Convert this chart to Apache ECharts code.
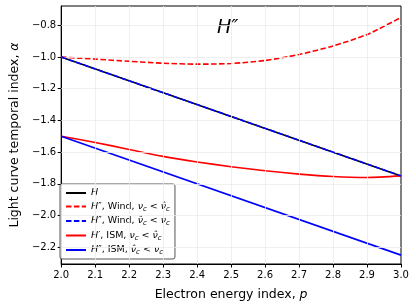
<!DOCTYPE html>
<html>
<head>
<meta charset="utf-8">
<script src="https://cdn.jsdelivr.net/npm/echarts@6/dist/echarts.min.js"></script>
<style>
  html, body { margin: 0; padding: 0; background: #fff; }
  #chart { width: 416px; height: 307px; }
</style>
</head>
<body>
<div id="chart"></div>
<script>
// electron energy index p (sample points)
const pCurve = [2.0, 2.1, 2.2, 2.3, 2.4, 2.5, 2.6, 2.7, 2.8, 2.9, 3.0];
const pLine = [2.0, 3.0];

// alpha values
const hClosure = [-1.0, -1.75];                 // H (black)
const windBelow = [-1.000, -1.013, -1.027, -1.039, -1.045, -1.041, -1.022, -0.984, -0.930, -0.858, -0.750];
const windAbove = [-1.0, -1.75];                // H'' wind, nu_hat < nu_c
const ismBelow = [-1.500, -1.539, -1.583, -1.627, -1.662, -1.692, -1.718, -1.739, -1.754, -1.760, -1.750];
const ismAbove = [-1.5, -2.25];                 // H'' ISM, nu_hat < nu_c

const xTicks = [2.0, 2.1, 2.2, 2.3, 2.4, 2.5, 2.6, 2.7, 2.8, 2.9, 3.0];
const yTicks = [-2.2, -2.0, -1.8, -1.6, -1.4, -1.2, -1.0, -0.8];

const FONT = 'DejaVu Sans';

function pairs(xs, ys) {
    return xs.map((x, i) => [x, ys[i]]);
}
const minus = v => String(v).replace('-', '\u2212');

const legendText = {
    h: '{i|H}',
    wb: '{i|H}{n|\u2033, Wind, }{i|\u03bd}{s|c}{n| < }{i|\u03bd\u0302}{s|c}',
    wa: '{i|H}{n|\u2033, Wind, }{i|\u03bd\u0302}{s|c}{n| < }{i|\u03bd}{s|c}',
    ib: '{i|H}{n|\u2032, ISM, }{i|\u03bd}{s|c}{n| < }{i|\u03bd\u0302}{s|c}',
    ia: '{i|H}{n|\u2033, ISM, }{i|\u03bd\u0302}{s|c}{n| < }{i|\u03bd}{s|c}'
};

const chart = echarts.init(document.getElementById('chart'), null, { renderer: 'canvas' });

function lineSeries(name, data, color, type, z) {
    return {
        name: name,
        type: 'line',
        data: data,
        symbol: 'none',
        smooth: data.length > 2 ? 0.25 : false,
        z: z,
        lineStyle: { color: color, width: 1.6, type: type === 'dashed' ? [5.5, 2.4] : 'solid' },
        itemStyle: { color: color }
    };
}

// grid lines drawn through the axes via markLine
const gridLines = {
    name: 'grid',
    type: 'line',
    data: [],
    silent: true,
    z: 1,
    markLine: {
        silent: true,
        symbol: 'none',
        label: { show: false },
        lineStyle: { color: '#ebebeb', width: 0.8, type: 'solid' },
        data: yTicks.map(v => ({ yAxis: v })).concat(xTicks.slice(1, -1).map(v => ({ xAxis: v })))
    }
};

chart.setOption({
    animation: false,
    textStyle: { fontFamily: FONT },
    grid: {
        left: 57, right: 15, top: 6, bottom: 43,
        show: true, borderColor: '#000', borderWidth: 1, backgroundColor: 'transparent'
    },
    xAxis: {
        type: 'value',
        min: 2.0, max: 3.0, interval: 0.1,
        name: '{n|Electron energy index, }{i|p}',
        nameLocation: 'middle',
        nameGap: 24,
        nameTextStyle: {
            rich: {
                n: { fontFamily: FONT, fontSize: 12.5, color: '#000' },
                i: { fontFamily: FONT, fontSize: 12.5, fontStyle: 'italic', color: '#000' }
            }
        },
        axisLine: { lineStyle: { color: '#000', width: 1 } },
        axisTick: { show: true, inside: false, length: 3.5, lineStyle: { color: '#000' } },
        axisLabel: { color: '#000', fontSize: 10, margin: 6, formatter: v => v.toFixed(1) },
        splitLine: { show: false }
    },
    yAxis: {
        type: 'value',
        min: -2.306, max: -0.678,
        name: '{n|Light curve temporal index, }{i|\u03b1}',
        nameLocation: 'middle',
        nameGap: 40,
        nameRotate: 90,
        nameTextStyle: {
            rich: {
                n: { fontFamily: FONT, fontSize: 12.5, color: '#000' },
                i: { fontFamily: FONT, fontSize: 12.5, fontStyle: 'italic', color: '#000' }
            }
        },
        axisLine: { show: true, lineStyle: { color: '#000', width: 1 } },
        axisTick: { show: true, inside: false, length: 3.5, customValues: yTicks, lineStyle: { color: '#000' } },
        axisLabel: { color: '#000', fontSize: 10, margin: 5, customValues: yTicks, formatter: v => minus(v.toFixed(1)) },
        splitLine: { show: false }
    },
    legend: {
        orient: 'vertical',
        left: 60, top: 184,
        padding: [4, 5, 3, 5],
        itemGap: 3.5,
        itemWidth: 20,
        itemHeight: 12,
        backgroundColor: 'rgba(255,255,255,0.85)',
        borderColor: '#555',
        borderWidth: 1,
        borderRadius: 2,
        itemStyle: { opacity: 0 },
        data: ['h', 'wb', 'wa', 'ib', 'ia'],
        formatter: name => legendText[name],
        textStyle: {
            fontFamily: FONT,
            fontSize: 9.5,
            color: '#000',
            rich: {
                n: { fontFamily: FONT, fontSize: 9.5, lineHeight: 12, color: '#000' },
                i: { fontFamily: FONT, fontSize: 9.5, fontStyle: 'italic', lineHeight: 12, color: '#000' },
                s: { fontFamily: FONT, fontSize: 7, fontStyle: 'italic', lineHeight: 8, verticalAlign: 'bottom', color: '#000' }
            }
        }
    },
    graphic: [{
        type: 'text',
        left: 217, top: 19,
        style: { text: 'H\u2033', font: 'italic 19px "DejaVu Sans"', fill: '#000' }
    }],
    series: [
        gridLines,
        lineSeries('h', pairs(pLine, hClosure), '#000000', 'solid', 3),
        lineSeries('wb', pairs(pCurve, windBelow), '#ff0000', 'dashed', 4),
        lineSeries('wa', pairs(pLine, windAbove), '#0000ff', 'dashed', 6),
        lineSeries('ib', pairs(pCurve, ismBelow), '#ff0000', 'solid', 4),
        lineSeries('ia', pairs(pLine, ismAbove), '#0000ff', 'solid', 4)
    ]
});
</script>
</body>
</html>
